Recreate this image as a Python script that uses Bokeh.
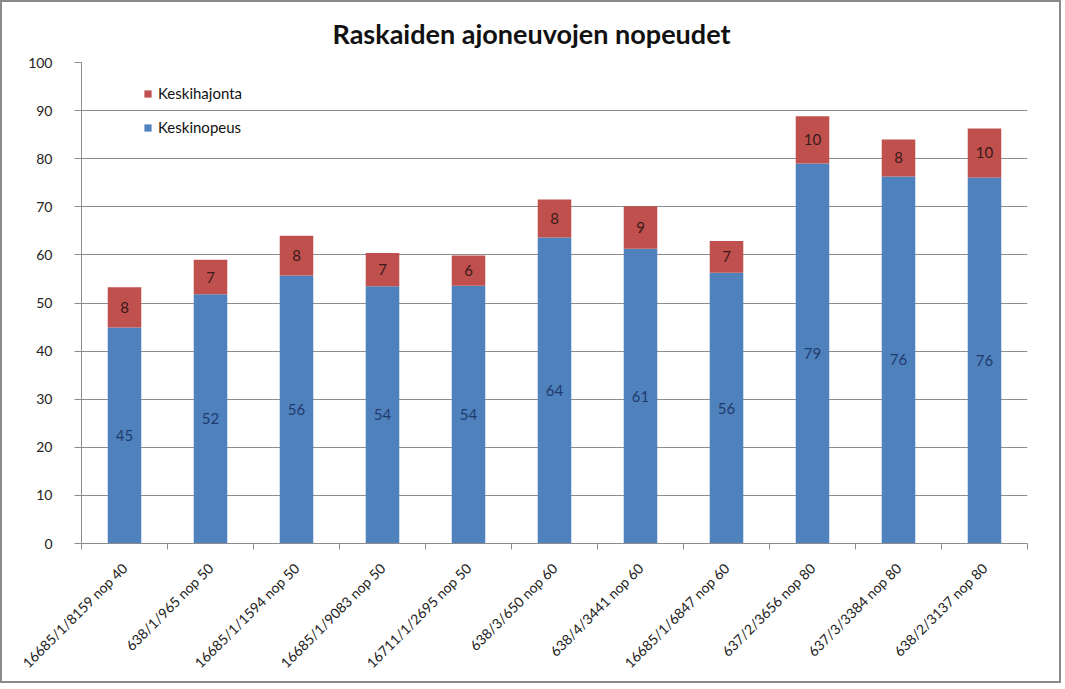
from bokeh.plotting import figure
from bokeh.models import Range1d, FixedTicker, ColumnDataSource, Legend, LegendItem, Title
from bokeh.core.properties import value
from bokeh.embed import file_html
from bokeh.resources import INLINE

# ---- data ----
categories = [
    "16685/1/8159 nop 40", "638/1/965 nop 50", "16685/1/1594 nop 50",
    "16685/1/9083 nop 50", "16711/1/2695 nop 50", "638/3/650 nop 60",
    "638/4/3441 nop 60", "16685/1/6847 nop 60", "637/2/3656 nop 80",
    "637/3/3384 nop 80", "638/2/3137 nop 80",
]
keskinopeus = [44.9, 51.8, 55.7, 53.5, 53.6, 63.6, 61.3, 56.3, 79.0, 76.3, 76.1]
keskihajonta = [8.4, 7.2, 8.3, 6.9, 6.3, 7.9, 8.8, 6.6, 9.8, 7.7, 10.2]
y_ticks = list(range(0, 101, 10))
title_text = "Raskaiden ajoneuvojen nopeudet"
series_names = ["Keskihajonta", "Keskinopeus"]

FONT = "Lato"
BLUE = "#4F81BD"
RED = "#C0504D"
GRID = "#8c8c8c"

n = len(categories)
x_centers = [i + 0.5 for i in range(n)]
tops = [a + b for a, b in zip(keskinopeus, keskihajonta)]
src = ColumnDataSource(dict(
    x=x_centers,
    speed=keskinopeus,
    sd=keskihajonta,
    top=tops,
    speed_mid=[v / 2 for v in keskinopeus],
    sd_mid=[a + b / 2 for a, b in zip(keskinopeus, keskihajonta)],
    speed_lbl=[f"{v:.0f}" for v in keskinopeus],
    sd_lbl=[f"{v:.0f}" for v in keskihajonta],
))

p = figure(width=1061, height=683,
           x_range=Range1d(0, n), y_range=Range1d(0, 100),
           output_backend="svg", toolbar_location=None,
           min_border_left=79, min_border_right=36,
           min_border_top=60, min_border_bottom=142)
p.styles = {"border": "2px solid #8a8a8a"}
p.background_fill_color = "white"
p.border_fill_color = "white"
p.outline_line_color = None

p.title.text = title_text
p.title.text_font = FONT
p.title.text_font_size = "27px"
p.title.text_font_style = "bold"
p.title.text_color = "#111111"
p.title.align = "left"
p.title.offset = 251
p.title.standoff = 10

# small empty spacer between the title and the plot frame
spacer = Title(text=" ", text_font_size="6px", standoff=0)
p.above = [spacer] + list(p.above)

blue_r = p.vbar(x="x", bottom=0, top="speed", width=0.39, fill_color=BLUE,
                line_color=None, source=src)
red_r = p.vbar(x="x", bottom="speed", top="top", width=0.39, fill_color=RED,
               line_color=None, source=src)

p.text(x="x", y="speed_mid", text="speed_lbl", source=src,
       text_align="center", text_baseline="middle",
       text_font=value(FONT), text_font_size="15px", text_color="#1F3B6E")
p.text(x="x", y="sd_mid", text="sd_lbl", source=src,
       text_align="center", text_baseline="middle",
       text_font=value(FONT), text_font_size="15px", text_color="#3A1A1A")

# axes
p.xaxis.ticker = FixedTicker(ticks=x_centers, minor_ticks=list(range(0, n + 1)))
p.xaxis.major_label_overrides = {x: c for x, c in zip(x_centers, categories)}
p.xaxis.major_label_orientation = 0.785398
p.xaxis.major_tick_out = 0
p.xaxis.major_tick_in = 0
p.xaxis.minor_tick_out = 6
p.xaxis.minor_tick_in = 0
p.xaxis.minor_tick_line_color = GRID
p.xaxis.axis_line_color = GRID
p.xaxis.major_label_standoff = 16
p.xaxis.major_label_text_font = FONT
p.xaxis.major_label_text_font_size = "14px"
p.xaxis.major_label_text_color = "#222222"

p.yaxis.ticker = FixedTicker(ticks=y_ticks)
p.yaxis.major_tick_out = 7
p.yaxis.major_tick_in = 0
p.yaxis.minor_tick_line_color = None
p.yaxis.major_tick_line_color = GRID
p.yaxis.axis_line_color = GRID
p.yaxis.major_label_standoff = 22
p.yaxis.major_label_text_font = FONT
p.yaxis.major_label_text_font_size = "14px"
p.yaxis.major_label_text_color = "#222222"

p.xgrid.visible = False
p.ygrid.ticker = FixedTicker(ticks=y_ticks)
p.ygrid.grid_line_color = GRID

legend = Legend(items=[LegendItem(label=series_names[0], renderers=[red_r]),
                       LegendItem(label=series_names[1], renderers=[blue_r])],
                location=(62, 407))
legend.background_fill_alpha = 0
legend.border_line_color = None
legend.padding = 0
legend.margin = 0
legend.spacing = 16
legend.glyph_width = 9
legend.glyph_height = 9
legend.label_height = 9
legend.label_standoff = 6
legend.label_text_font = FONT
legend.label_text_font_size = "15px"
legend.label_text_color = "#111111"
legend.label_text_baseline = "middle"
p.add_layout(legend)

open("out.html", "w").write(file_html(p, INLINE))
